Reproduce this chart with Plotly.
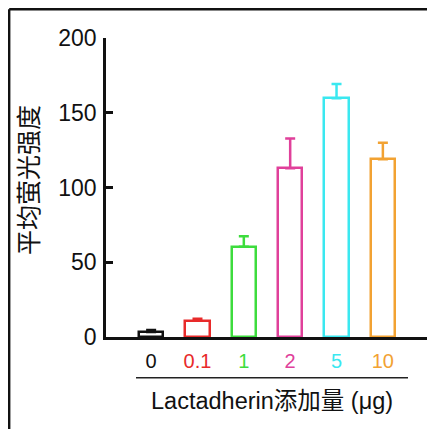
import plotly.graph_objects as go

categories = ["0", "0.1", "1", "2", "5", "10"]
values = [3.3, 10.9, 60.4, 112.8, 159.7, 118.9]
errors = [1.4, 1.3, 7.0, 20.0, 9.5, 11.0]
colors = ["#111111", "#e82a2a", "#3ddc3d", "#e0409a", "#3ae8f0", "#f2a232"]
y_ticks = [0, 50, 100, 150, 200]

# the page body adds an 8px margin, so the figure is drawn 8px smaller
OFF = 8
W, H = 435 - OFF, 429 - OFF
L, R, T, B = 106 - OFF, 3, 38 - OFF, 92
pw = W - L - R
ph = H - T - B


def px(xp):
    return (xp - OFF - L) / pw


def py(yp):
    return (H - B - (yp - OFF)) / ph


fig = go.Figure()
for i, (c, v, e, col) in enumerate(zip(categories, values, errors, colors)):
    fig.add_trace(go.Bar(
        x=[i], y=[v], width=0.52,
        marker=dict(color="white", line=dict(color=col, width=2.5)),
        error_y=dict(type="data", array=[e], arrayminus=[0], symmetric=False,
                     color=col, thickness=2.5, width=5),
        showlegend=False, hoverinfo="skip",
    ))

ticktext = [f"<span style='color:{col}'>{c}</span>" for c, col in zip(categories, colors)]

fig.update_layout(
    width=W, height=H,
    margin=dict(l=L, r=R, t=T, b=B, pad=0),
    paper_bgcolor="white", plot_bgcolor="white",
    font=dict(family="Liberation Sans, Arial, sans-serif", color="#111111"),
    bargap=0,
    xaxis=dict(
        range=[-0.974, 6.06], tickmode="array", tickvals=list(range(len(categories))),
        ticktext=ticktext, showgrid=False, zeroline=False,
        showline=True, linecolor="#111111", linewidth=2.5, ticks="",
        tickfont=dict(size=20), ticklabelstandoff=4,
    ),
    yaxis=dict(
        range=[0, 200], tickvals=y_ticks, showgrid=False, zeroline=False,
        showline=True, linecolor="#111111", linewidth=2.5,
        ticks="inside", ticklen=7, tickwidth=2.5, tickcolor="#111111",
        tickfont=dict(size=23), ticklabelstandoff=2,
    ),
)

# outer frame (top and left)
fx = 1.2 / pw * -1 + 0  # placeholder, replaced below
fx = (1.2 - L) / pw
fy = (H - B - 1.2) / ph
fig.add_shape(type="line", xref="paper", yref="paper", x0=fx, x1=fx, y0=fy, y1=-2,
              line=dict(color="#111111", width=2.4))
fig.add_shape(type="line", xref="paper", yref="paper", x0=fx, x1=2, y0=fy, y1=fy,
              line=dict(color="#111111", width=2.4))
# underline beneath category labels
fig.add_shape(type="line", xref="paper", yref="paper",
              x0=px(136), x1=px(408), y0=py(377.7), y1=py(377.7),
              line=dict(color="#222222", width=1.5))

fig.add_annotation(text="Lactadherin添加量 (μg)", xref="paper", yref="paper",
                   x=px(272), y=py(401),
                   xanchor="center", yanchor="middle", showarrow=False,
                   font=dict(size=23.5, family="Liberation Sans, Noto Sans CJK SC, sans-serif", color="#111111"))
fig.add_annotation(text="平均萤光强度", xref="paper", yref="paper",
                   x=px(27), y=py(180), textangle=-90,
                   xanchor="center", yanchor="middle", showarrow=False,
                   font=dict(size=25, family="Noto Sans CJK SC, sans-serif", color="#111111"))

fig.write_html("out.html")
